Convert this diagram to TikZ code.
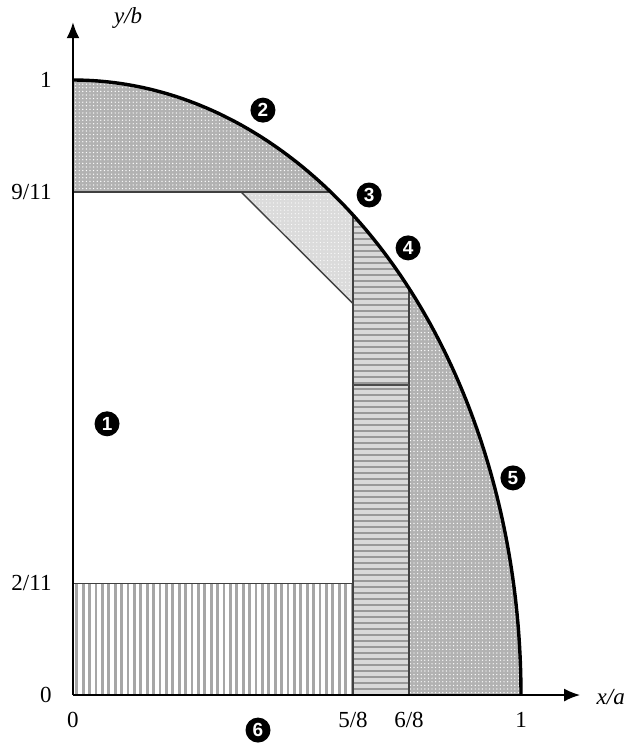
\documentclass[tikz,border=0pt]{standalone}
\usepackage{fontspec}
\setmainfont{Liberation Serif}
\setsansfont{Liberation Sans}
\usetikzlibrary{arrows.meta,patterns.meta}

\begin{document}
\begin{tikzpicture}[
    x=224pt,y=307.5pt,
    axis/.style={-{Latex[length=8pt,width=6.5pt]},line width=1pt},
    rim/.style={line width=1.7pt,draw=black},
    edge/.style={draw=black!75,line width=0.7pt},
    tick/.style={font=\fontsize{11.5}{13}\selectfont,inner sep=0pt},
    zone/.style={circle,fill=black,text=white,inner sep=0pt,minimum size=12.5pt,
                 font=\sffamily\bfseries\fontsize{9.5}{10}\selectfont},
    dotdark/.style={fill=black!30,postaction={pattern={Dots[distance=1.8pt,radius=0.35pt]},pattern color=white}},
    dotlight/.style={fill=black!14,postaction={pattern={Dots[distance=1.8pt,radius=0.3pt]},pattern color=white}},
    hlines/.style={fill=black!15,postaction={pattern={Lines[angle=0,distance=3pt,line width=1.4pt]},pattern color=black!40}},
    vlines/.style={fill=white,postaction={pattern={Lines[angle=90,distance=3.2pt,line width=1.4pt]},pattern color=black!35}}
  ]
    \useasboundingbox (-0.1629,-0.0780) rectangle (1.2478,1.1301);

    \coordinate (O) at (0,0);
    \coordinate (ytip) at (0,1.094);
    \coordinate (xtip) at (1.132,0);
    \coordinate (top) at (0,1);
    \coordinate (rimA) at (0.5750,0.8182);
    \coordinate (rimB) at (0.625,0.7806);
    \coordinate (rimC) at (0.75,0.6614);
    \coordinate (right) at (1,0);
    \coordinate (cutA) at (0.375,0.8182);
    \coordinate (cutB) at (0.625,0.6364);

    \path[dotdark] (0,0.8182) -- (top)
      -- plot[domain=90:54.90,samples=40] ({cos(\x)},{sin(\x)}) -- cycle;
    \path[dotlight] (cutA) -- (rimA)
      -- plot[domain=54.90:51.318,samples=10] ({cos(\x)},{sin(\x)}) -- (cutB) -- cycle;
    \path[hlines] (0.625,0) -- (rimB)
      -- plot[domain=51.318:41.41,samples=20] ({cos(\x)},{sin(\x)}) -- (0.75,0) -- cycle;
    \path[dotdark] (0.75,0) -- (rimC)
      -- plot[domain=41.41:0,samples=50] ({cos(\x)},{sin(\x)}) -- cycle;
    \path[vlines] (O) rectangle (0.625,0.1818);

    \draw[edge] (0,0.8182) -- (rimA);
    \draw[edge] (cutA) -- (cutB);
    \draw[edge] (0.625,0) -- (rimB);
    \draw[edge] (0.75,0) -- (rimC);
    \draw[edge] (0,0.1818) -- (0.625,0.1818);
    \draw[draw=black!70,line width=1.1pt] (0.625,0.504) -- (0.75,0.504);

    \draw[rim] plot[domain=90:0,samples=120] ({cos(\x)},{sin(\x)});

    \draw[axis] (O) -- (ytip);
    \draw[axis] (O) -- (xtip);

    \node[tick,font=\itshape\fontsize{11.5}{13}\selectfont] (ylab) at (0.123,1.100) {y/b};
    \node[tick,font=\itshape\fontsize{11.5}{13}\selectfont,anchor=west] (xlab) at (1.168,-0.004) {x/a};

    \node[tick,anchor=east] (y1) at (-0.047,1) {1};
    \node[tick,anchor=east] (y911) at (-0.047,0.8182) {9/11};
    \node[tick,anchor=east] (y211) at (-0.047,0.1818) {2/11};
    \node[tick,anchor=east] (y0) at (-0.047,0) {0};

    \node[tick,anchor=north] (x0) at (0,-0.028) {0};
    \node[tick,anchor=north] (x58) at (0.625,-0.028) {5/8};
    \node[tick,anchor=north] (x68) at (0.75,-0.028) {6/8};
    \node[tick,anchor=north] (x1) at (1,-0.028) {1};

    \node[zone] (z1) at (0.076,0.441) {1};
    \node[zone] (z2) at (0.424,0.951) {2};
    \node[zone] (z3) at (0.661,0.813) {3};
    \node[zone] (z4) at (0.748,0.727) {4};
    \node[zone] (z5) at (0.982,0.353) {5};
    \node[zone] (z6) at (0.413,-0.057) {6};
  \end{tikzpicture}
\end{document}
